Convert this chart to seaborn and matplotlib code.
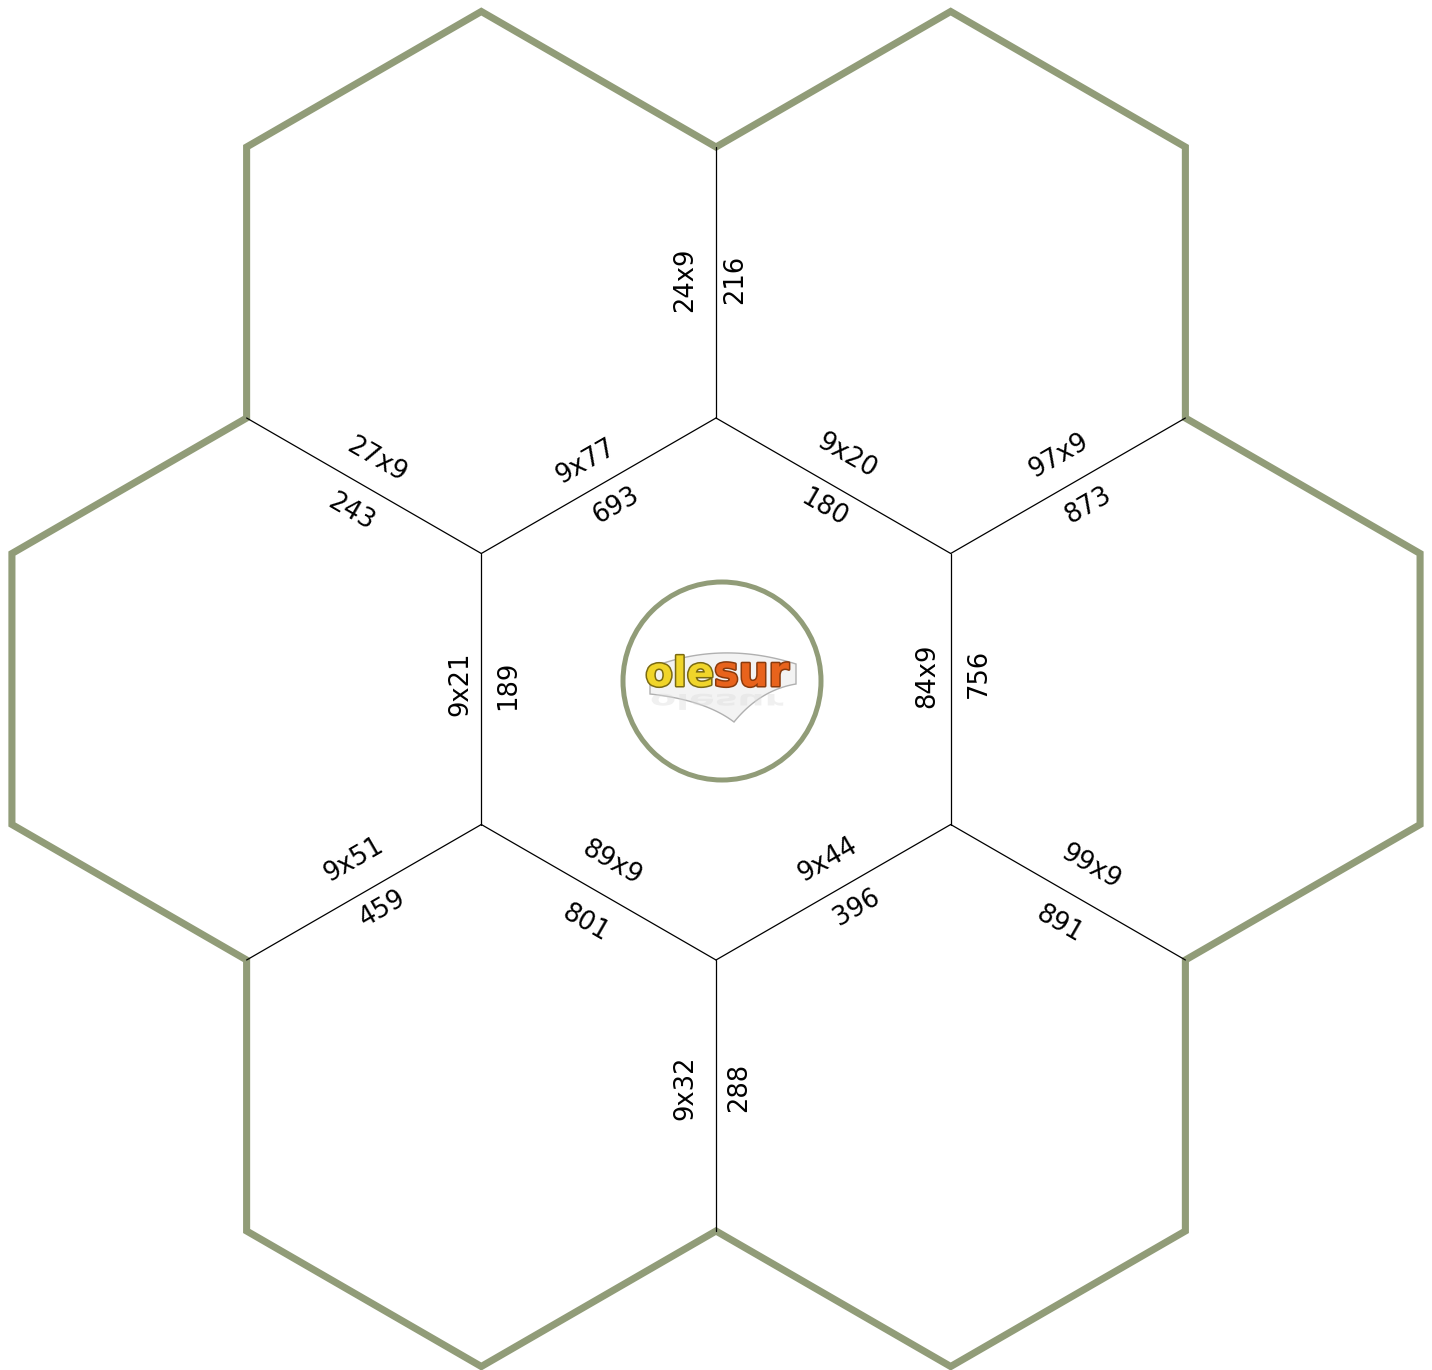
import numpy as np
import pandas as pd
import matplotlib
matplotlib.use("Agg")
import matplotlib.pyplot as plt
import seaborn as sns
from matplotlib.patches import Circle, PathPatch
from matplotlib.textpath import TextPath
from matplotlib.font_manager import FontProperties
from matplotlib.transforms import Affine2D
import matplotlib.patheffects as pe

# ---------------- data ----------------
# edges of the central hexagon, clockwise from the top vertex
CENTER_Q = ["9x20", "84x9", "9x44", "89x9", "9x21", "9x77"]
CENTER_A = ["180", "756", "396", "801", "189", "693"]
# spokes leaving each vertex of the central hexagon, clockwise from top
SPOKE_Q = ["24x9", "97x9", "99x9", "9x32", "9x51", "27x9"]
SPOKE_A = ["216", "873", "891", "288", "459", "243"]

# ---------------- layout ----------------
W, H = 1432, 1370
CX, CY, R = 716, 689, 271
OLIVE = "#919c78"
# label offsets (question normal, answer normal, question along, answer along)
CENTER_OFF = [(32, 24, -3, 3), (23, 28, 13, 16), (31, 25, 11, 13),
              (32, 33, -3, 4), (21, 27, 5, 4), (27, 26, 1, 5)]
SPOKE_OFF = [(31, 19, 3, 3), (31, 27, 7, 8), (33, 32, 7, 8),
             (31, 23, 8, 8), (33, 24, 7, 8), (29, 29, -2, 2)]
FS = 18.5

sns.set_theme(style="white")
plt.rcParams["font.family"] = ["DejaVu Sans"]
fig = plt.figure(figsize=(W / 100, H / 100), dpi=100)
ax = fig.add_axes([0, 0, 1, 1])

C = np.array([CX, CY], dtype=float)
ang = np.radians(-90 + 60 * np.arange(6))
U = np.stack([np.cos(ang), np.sin(ang)], axis=1)
V = C + R * U

# outer boundary of the 6 surrounding hexagons (no duplicated vertices)
apo = R * np.sqrt(3) / 2
verts = []
for k in range(6):
    th = np.radians(-90 + 60 * k + 30)
    P = C + 2 * apo * np.array([np.cos(th), np.sin(th)])
    for da in (-90, -30, 30):
        a = th + np.radians(da)
        verts.append(P + R * np.array([np.cos(a), np.sin(a)]))
verts = np.array(verts)
start = (verts[0] + verts[1]) / 2
outer_pts = np.vstack([start, verts[1:], verts[0], start])
df_outer = pd.DataFrame({"x": outer_pts[:, 0], "y": outer_pts[:, 1]})
sns.lineplot(data=df_outer, x="x", y="y", sort=False, estimator=None,
             color=OLIVE, lw=5.1, ax=ax, solid_joinstyle="miter",
             solid_capstyle="butt", zorder=2)

# inner edges
edges = []
for k in range(6):
    edges.append((V[k], V[(k + 1) % 6], CENTER_Q[k], CENTER_A[k], CENTER_OFF[k]))
for k in range(6):
    edges.append((V[k], C + 2 * R * U[k], SPOKE_Q[k], SPOKE_A[k], SPOKE_OFF[k]))

rows = []
for i, (P, Q, q, a, off) in enumerate(edges):
    rows.append({"x": P[0], "y": P[1], "edge": i})
    rows.append({"x": Q[0], "y": Q[1], "edge": i})
df_in = pd.DataFrame(rows)
sns.lineplot(data=df_in, x="x", y="y", units="edge", estimator=None, sort=False,
             color="black", lw=0.9, ax=ax, zorder=3)

for P, Q, q, a, (dq, da, tq, ta) in edges:
    d = (Q - P) / np.linalg.norm(Q - P)
    if abs(d[0]) < 1e-6:
        if d[1] > 0:
            d = -d
    elif d[0] < 0:
        d = -d
    rot = np.degrees(np.arctan2(-d[1], d[0]))
    n = np.array([d[1], -d[0]])
    mid = (P + Q) / 2
    pq = mid + n * dq + d * tq
    pa = mid - n * da + d * ta
    ax.text(pq[0], pq[1], q, rotation=rot, ha="center", va="center",
            fontsize=FS, color="black", zorder=4)
    ax.text(pa[0], pa[1], a, rotation=rot, ha="center", va="center",
            fontsize=FS, color="black", zorder=4)

# central logo medallion
LX, LY, LR = 722, 681, 99
ax.add_patch(Circle((LX, LY), LR, facecolor="white", edgecolor=OLIVE, lw=3.6, zorder=5))

# grey swoosh
t = np.linspace(0, 1, 40)
def bez(p0, p1, p2):
    p0, p1, p2 = map(np.array, (p0, p1, p2))
    return ((1 - t)[:, None] ** 2) * p0 + (2 * (1 - t) * t)[:, None] * p1 + (t[:, None] ** 2) * p2
top = bez((650, 668), (720, 640), (796, 664))
bl = bez((650, 694), (705, 700), (734, 722))
br = bez((734, 722), (760, 690), (796, 684))
shape = np.vstack([top, br[::-1], bl[::-1]])
ax.fill(shape[:, 0], shape[:, 1], facecolor="#f3f3f3", edgecolor="#b0b0b0",
        lw=1.0, zorder=6)

# faint reflection
fp = FontProperties(family="DejaVu Sans", weight="bold")
tp = TextPath((0, 0), "olesur", size=38, prop=fp)
tp = tp.transformed(Affine2D().scale(1.0, 0.55).translate(650, 694))
ax.add_patch(PathPatch(tp, facecolor="#dadada", edgecolor="none", alpha=0.4, zorder=6.5))

ax.text(714, 686, "ole", ha="right", va="baseline", fontsize=29, fontweight="bold",
        color="#f0d52a", zorder=7,
        path_effects=[pe.withStroke(linewidth=2.2, foreground="#7a6a12")])
ax.text(714, 686, "sur", ha="left", va="baseline", fontsize=30, fontweight="bold",
        color="#e8631c", zorder=7,
        path_effects=[pe.withStroke(linewidth=2.2, foreground="#8a3a0c")])

ax.set_xlim(0, W)
ax.set_ylim(H, 0)
ax.axis("off")
if ax.get_legend():
    ax.get_legend().remove()
fig.savefig("out.png", dpi=100, facecolor="white")
